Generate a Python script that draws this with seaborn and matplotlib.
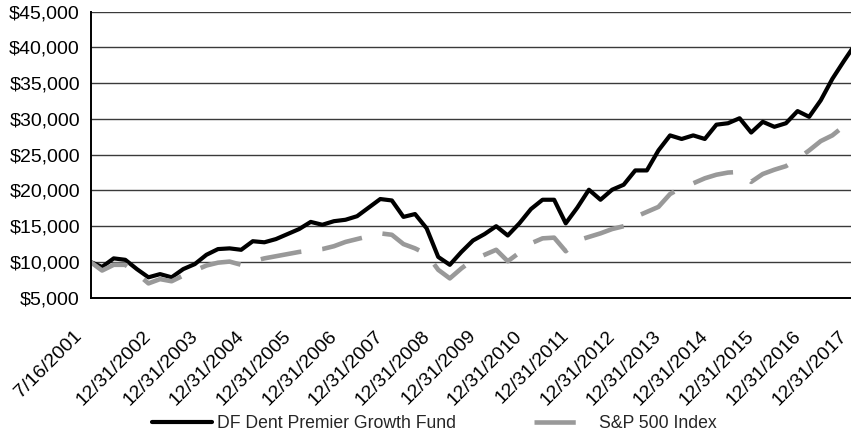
import pandas as pd
import matplotlib
matplotlib.use("Agg")
import matplotlib.pyplot as plt
import matplotlib.transforms as mtransforms
from matplotlib.ticker import FuncFormatter
import seaborn as sns

sns.set_style("white")
plt.rcParams["font.family"] = ["Liberation Sans", "DejaVu Sans"]

# quarterly valuation dates, first one is inception
dates = ["7/16/2001", "9/30/2001", "12/31/2001"]
for yr in range(2002, 2018):
    dates += [f"3/31/{yr}", f"6/30/{yr}", f"9/30/{yr}", f"12/31/{yr}"]

# growth of $10,000
fund = [10000, 9300, 10500, 10300, 9000, 7850, 8300, 7850, 9000, 9700,
        11000, 11800, 11900, 11700, 12900, 12750, 13200, 13900, 14600, 15600,
        15200, 15700, 15900, 16400, 17600, 18800, 18600, 16300, 16700, 14700,
        10700, 9600, 11400, 13000, 13900, 15000, 13700, 15400, 17400, 18700,
        18700, 15400, 17600, 20100, 18700, 20100, 20800, 22800, 22800, 25600,
        27700, 27200, 27700, 27200, 29200, 29400, 30100, 28100, 29600, 28900,
        29400, 31100, 30300, 32600, 35600, 38100, 40500]
sp500 = [10000, 8800, 9600, 9600, 8400, 7000, 7600, 7300, 8100, 8800,
         9500, 9900, 10050, 9600, 10100, 10500, 10800, 11100, 11400, 11600,
         11800, 12200, 12800, 13200, 13600, 14000, 13800, 12500, 11900, 11100,
         8900, 7700, 9100, 10300, 11000, 11700, 10100, 11300, 12600, 13300,
         13400, 11500, 13000, 13500, 14000, 14600, 15000, 16300, 17000, 17700,
         19500, 20400, 21000, 21700, 22200, 22500, 22600, 21200, 22300, 22900,
         23400, 24400, 25600, 26900, 27700, 29000, 31300]

fund_name = "DF Dent Premier Growth Fund"
index_name = "S&P 500 Index"

df = pd.DataFrame({"pos": range(len(dates)), "date": dates,
                   "fund": fund, "sp500": sp500})

fig = plt.figure(figsize=(8.51, 4.38), dpi=100)
ax = fig.add_axes([90.5 / 851, 1 - 297.7 / 438, 765 / 851, 286 / 438])

sns.lineplot(data=df, x="pos", y="fund", color="black", linewidth=3.0,
             label=fund_name, ax=ax)
sns.lineplot(data=df, x="pos", y="sp500", color="#999999", linewidth=3.3,
             linestyle=(0, (9, 4.6)), label=index_name, ax=ax)

ax.set_ylim(5000, 45000)
ax.set_yticks(range(5000, 45001, 5000))
ax.yaxis.set_major_formatter(FuncFormatter(lambda v, p: f"${v:,.0f}"))
ax.yaxis.grid(True, color="#3a3a3a", linewidth=1.0)
ax.set_axisbelow(True)

tick_pos = [0] + list(range(6, len(dates), 4))
ax.set_xlim(0, len(dates) - 1)
ax.set_xticks(tick_pos)
ax.set_xticklabels([dates[i] for i in tick_pos], rotation=45, ha="right",
                   va="center", rotation_mode="anchor")
ax.set_xlabel("")
ax.set_ylabel("")

for s in ["top", "right"]:
    ax.spines[s].set_visible(False)
for s in ["left", "bottom"]:
    ax.spines[s].set_color("black")
    ax.spines[s].set_linewidth(1.4)

ax.tick_params(axis="both", direction="out", length=3.6, width=1.2,
               color="black", labelsize=14, labelcolor="black")
ax.tick_params(axis="x", pad=22)
ax.tick_params(axis="y", pad=4)

shift = mtransforms.ScaledTranslation(-8 / 72, 0, fig.dpi_scale_trans)
for lab in ax.get_xticklabels():
    lab.set_transform(lab.get_transform() + shift)

ax.legend(loc="center left", bbox_to_anchor=(152 / 851, 1 - 424 / 438),
          bbox_transform=fig.transFigure, ncol=2, frameon=False,
          fontsize=12.7, handlelength=3.4, handletextpad=0.3,
          columnspacing=4.4, borderpad=0, borderaxespad=0)

fig.savefig("out.png", dpi=100)
